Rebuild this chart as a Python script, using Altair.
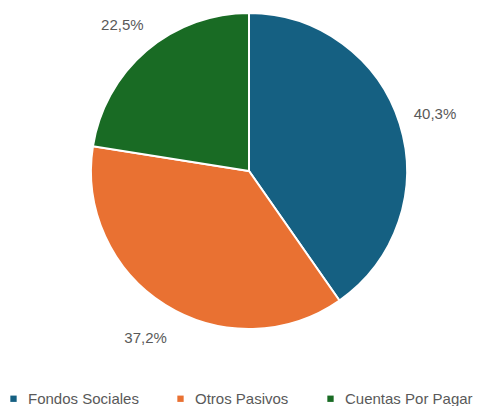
import altair as alt
import pandas as pd

categories = ["Fondos Sociales", "Otros Pasivos", "Cuentas Por Pagar"]
values = [40.3, 37.2, 22.5]
labels = ["40,3%", "37,2%", "22,5%"]
colors = ["#156082", "#E97132", "#196B24"]

df = pd.DataFrame({"cat": categories, "val": values, "lab": labels, "ord": [0, 1, 2]})

color = alt.Color("cat:N", scale=alt.Scale(domain=categories, range=colors),
                  legend=alt.Legend(orient="none", legendX=-2, legendY=383, direction="horizontal",
                                    title=None, symbolType="square", symbolSize=40,
                                    labelFont="Liberation Sans", labelFontSize=15,
                                    labelColor="#595959", columnPadding=34, labelOffset=7,
                                    symbolStrokeWidth=0))

base = alt.Chart(df).encode(
    theta=alt.Theta("val:Q", stack=True),
    order=alt.Order("ord:Q"),
)

pie = base.mark_arc(outerRadius=158, stroke="white", strokeWidth=2).encode(
    color=color, x=alt.value(241), y=alt.value(163))

text = base.mark_text(radius=195, font="Liberation Sans", fontSize=15, color="#595959").encode(
    text="lab:N", x=alt.value(241), y=alt.value(165))

chart = (pie + text).properties(width=480, height=398, autosize="none", padding=0).configure_view(stroke=None)

chart.save("out.html", embed_options={"renderer": "svg", "actions": False})
